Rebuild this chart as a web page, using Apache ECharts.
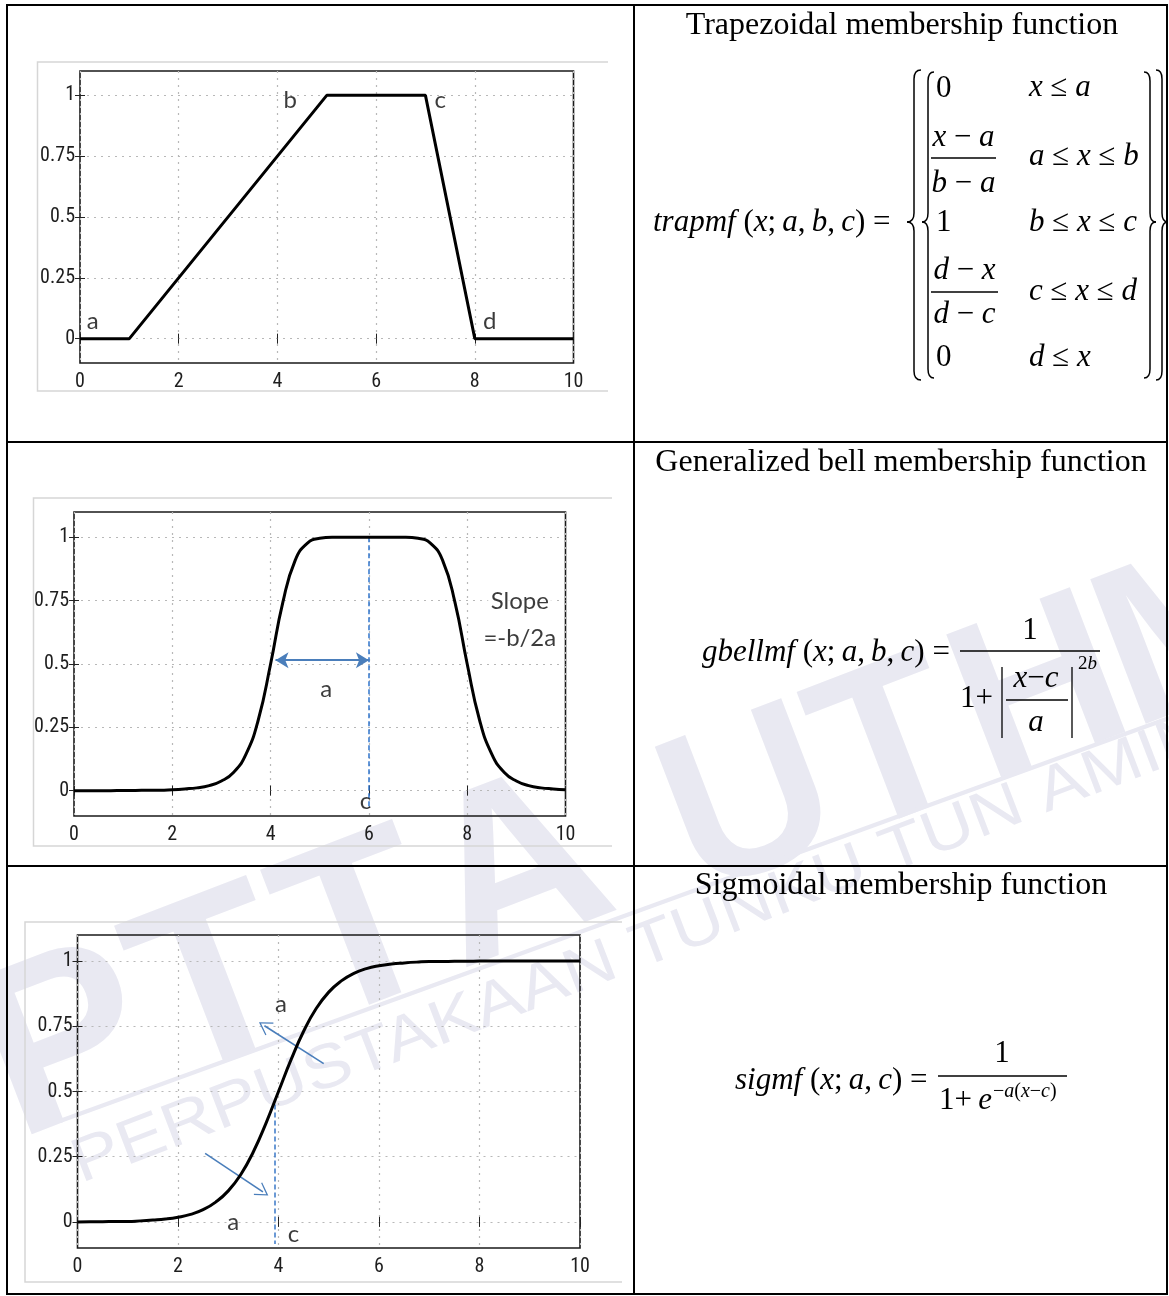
<!DOCTYPE html>
<html><head><meta charset="utf-8">
<script src="https://cdn.jsdelivr.net/npm/echarts@6/dist/echarts.min.js"></script>
<style>html,body{margin:0;padding:0;background:#fff}#c{width:1169px;height:1296px}</style>
</head><body><div id="c"></div>
<script>
// ---------- data ----------
const xTicks = [0, 2, 4, 6, 8, 10];
const yTicks = [0, 0.25, 0.5, 0.75, 1];
const trapX = [0, 1, 5, 7, 8, 10];
const trapY = [0, 0, 1, 1, 0, 0];
const curveX = [0,0.25,0.5,0.75,1,1.25,1.5,1.75,2,2.25,2.5,2.75,3,3.25,3.5,3.75,4,4.25,4.5,4.75,5,5.25,5.5,5.75,6,6.25,6.5,6.75,7,7.25,7.5,7.75,8,8.25,8.5,8.75,9,9.25,9.5,9.75,10];
const bellY = [0.000,0.000,0.000,0.000,0.001,0.001,0.002,0.002,0.004,0.007,0.011,0.020,0.038,0.073,0.144,0.280,0.500,0.744,0.909,0.977,0.996,1.000,1.000,1.000,1.000,1.000,1.000,1.000,0.996,0.977,0.909,0.744,0.500,0.280,0.144,0.073,0.038,0.020,0.011,0.007,0.004];
const sigY = [0.000,0.001,0.001,0.002,0.002,0.004,0.007,0.011,0.018,0.029,0.047,0.076,0.119,0.182,0.269,0.378,0.500,0.622,0.731,0.818,0.881,0.924,0.953,0.971,0.982,0.989,0.993,0.996,0.998,0.998,0.999,0.999,1.000,1.000,1.000,1.000,1.000,1.000,1.000,1.000,1.000];
const trapLabels = [[0.26, 0.07, 'a'], [4.26, 0.98, 'b'], [7.3, 0.98, 'c'], [8.3, 0.07, 'd']];
const bellLabels = [[5.13, 0.40, 'a'], [5.93, -0.04, 'c'], [9.07, 0.746, 'Slope'], [9.07, 0.60, '=-b/2a']];
const sigLabels = [[4.05, 0.836, 'a'], [3.1, 0.0, 'a'], [4.3, -0.046, 'c']];
const bellDash = [[6, 1], [6, -0.07]];
const bellArrow = [[4.1, 0.515], [6.0, 0.515]];
const sigDash = [[3.93, 0.45], [3.93, -0.085]];
const sigArrows = [[[4.9, 0.607], [3.72, 0.752]], [[2.54, 0.263], [3.69, 0.115]]];
const titles = ['Trapezoidal membership function', 'Generalized bell membership function', 'Sigmoidal membership function'];
const watermarkBig = ['P', 'T', 'T', 'A', 'U', 'T', 'H', 'M'];
const watermarkSmall = 'PERPUSTAKAAN TUNKU TUN AMINAH';

// ---------- styling helpers ----------
const TICKFONT = "'Liberation Sans Narrow','Roboto Condensed','DejaVu Sans Condensed','Liberation Sans',sans-serif";
const ANNFONT = "Lato,'Open Sans',sans-serif";
const SERIF = "'Liberation Serif','Times New Roman',serif";
const grids = [
  {left: 80, top: 71, width: 493.5, height: 292},
  {left: 74, top: 512, width: 491.5, height: 304},
  {left: 77.5, top: 935, width: 502.5, height: 313}
];
const gridLine = {show: true, lineStyle: {color: '#b8b8b8', type: [2, 5], width: 1.2}};
const xAxes = [], yAxes = [];
grids.forEach((g, i) => {
  xAxes.push({type: 'value', gridIndex: i, min: 0, max: 10, interval: 2,
    axisLine: {show: false}, axisTick: {inside: true, length: 5, lineStyle: {color: '#222'}},
    axisLabel: {margin: 9, color: '#1e1e1e', fontSize: 20, fontFamily: TICKFONT},
    splitLine: gridLine});
  xAxes.push({type: 'value', gridIndex: i, position: 'top', min: 0, max: 10, interval: 2,
    axisLine: {show: false}, axisTick: {inside: true, length: 5, lineStyle: {color: '#222'}},
    axisLabel: {show: false}, splitLine: {show: false}});
  yAxes.push({type: 'value', gridIndex: i, min: -0.1, max: 1.1,
    axisLine: {show: false},
    axisTick: {inside: true, length: 5, customValues: yTicks, lineStyle: {color: '#222'}},
    axisLabel: {customValues: yTicks, margin: 5, color: '#1e1e1e', fontSize: 20, fontFamily: TICKFONT},
    splitLine: gridLine});
  yAxes.push({type: 'value', gridIndex: i, position: 'right', min: -0.1, max: 1.1,
    axisLine: {show: false},
    axisTick: {inside: true, length: 5, customValues: yTicks, lineStyle: {color: '#222'}},
    axisLabel: {show: false}, splitLine: {show: false}});
});
const gridOpts = grids.map(g => Object.assign({show: true, borderColor: '#1a1a1a', borderWidth: 1.6,
  backgroundColor: 'transparent', containLabel: false, outerBoundsMode: 'none'}, g));

const curveStyle = {color: '#000', width: 3};
function lineSeries(i, data, smooth) {
  return {type: 'line', xAxisIndex: 2 * i, yAxisIndex: 2 * i, data: data, smooth: smooth,
    symbol: 'none', lineStyle: curveStyle, itemStyle: {color: '#000'}, z: 5, animation: false, silent: true};
}
function labelSeries(i, arr) {
  return {type: 'scatter', xAxisIndex: 2 * i, yAxisIndex: 2 * i, symbolSize: 1, z: 6, silent: true, animation: false,
    itemStyle: {color: 'rgba(0,0,0,0)'},
    data: arr.map(d => {
      const item = {value: [d[0], d[1]], name: d[2]};
      if (d[2] === 'Slope') item.label = {backgroundColor: '#fff', padding: [0, 3]};
      return item;
    }),
    label: {show: true, position: 'inside', formatter: p => p.name, fontSize: 24, fontFamily: ANNFONT, color: '#0a0a0a'}};
}
const chevron = 'path://M0,0 L10,12 L8.6,12.6 L0,2.4 L-8.6,12.6 L-10,12 Z';

const bell = lineSeries(1, curveX.map((x, k) => [x, bellY[k]]), 0.5);
bell.markLine = {silent: true, animation: false, symbol: 'none', label: {show: false},
  data: [
    [{coord: bellDash[0], lineStyle: {color: '#2f74cc', type: [5, 3], width: 1.5}}, {coord: bellDash[1]}],
    [{coord: bellArrow[0], symbol: 'arrow', symbolSize: [12, 13], lineStyle: {color: '#4a7ebb', type: 'solid', width: 2}},
     {coord: bellArrow[1], symbol: 'arrow', symbolSize: [12, 13]}]
  ]};
const sig = lineSeries(2, curveX.map((x, k) => [x, sigY[k]]), 0.5);
sig.markLine = {silent: true, animation: false, symbol: 'none', label: {show: false},
  data: [
    [{coord: sigDash[0], lineStyle: {color: '#3a78c8', type: [5, 3], width: 1.5}}, {coord: sigDash[1]}]
  ].concat(sigArrows.map(a => [
    {coord: a[0], lineStyle: {color: '#4a7ebb', type: 'solid', width: 1.6}},
    {coord: a[1], symbol: chevron, symbolSize: [15, 13]}
  ]))};

// ---------- formula text helpers ----------
function mt(str) {
  let out = '', m; const re = /([a-z]+)|([^a-z]+)/g;
  while ((m = re.exec(str))) out += m[1] ? '{i|' + m[1] + '}' : '{r|' + m[2] + '}';
  return out;
}
function ftext(x, y, str, size, align) {
  return {type: 'text', x: x, y: y, z: 20, silent: true,
    style: {text: mt(str), align: align || 'left', verticalAlign: 'middle', fill: '#000',
      rich: {i: {fontFamily: SERIF, fontStyle: 'italic', fontSize: size, fill: '#000'},
             r: {fontFamily: SERIF, fontSize: size, fill: '#000'}}}};
}
function seg(x1, y1, x2, y2, w) {
  return {type: 'line', z: 20, silent: true, shape: {x1: x1, y1: y1, x2: x2, y2: y2}, style: {stroke: '#000', lineWidth: w || 1.3}};
}
function curve(x1, y1, cx, cy, x2, y2) {
  return {type: 'bezierCurve', z: 20, silent: true, shape: {x1: x1, y1: y1, cpx1: cx, cpy1: cy, x2: x2, y2: y2},
    style: {stroke: '#000', fill: null, lineWidth: 1.5}};
}
// brace: xv vertical x, xt tip x, xe end-curl x
function brace(xv, xt, xe, yT, yM, yB) {
  const r = 9;
  return [
    curve(xe, yT, xv, yT, xv, yT + r), seg(xv, yT + r, xv, yM - r, 1.5),
    curve(xv, yM - r, xv, yM, xt, yM), curve(xt, yM, xv, yM, xv, yM + r),
    seg(xv, yM + r, xv, yB - r, 1.5), curve(xv, yB - r, xv, yB, xe, yB)
  ];
}
function title(x, y, t) {
  return {type: 'text', x: x, y: y, z: 20, silent: true,
    style: {text: t, fontFamily: SERIF, fontSize: 32, fill: '#000', align: 'center', verticalAlign: 'middle'}};
}
const F = 31, TS = '\u2009';
const WM = '#e9e9f2';
const ROT = 21 * Math.PI / 180;
const bigStarts = [18, 172, 318, 462, 698, 850, 988, 1132];
const bigShiftY = [0, 0, 0, 0, 14, 14, 14, 14];
const graphics = [];
// watermark (big letters placed along a slanted baseline)
watermarkBig.forEach((ch, k) => {
  const x = bigStarts[k];
  const yb = 872 + (725 - x) * 0.384 + bigShiftY[k];
  graphics.push({type: 'text', x: x + 50 * Math.sin(ROT), y: yb + 50 * Math.cos(ROT), rotation: ROT, z: -10, silent: true,
    style: {text: ch, fontSize: k < 4 ? 240 : 225, fontWeight: 'bold', fontFamily: "'Liberation Sans',Arial,sans-serif", fill: WM, align: 'left', verticalAlign: 'bottom'}});
});
graphics.push(
  {type: 'text', x: 86, y: 1196, rotation: ROT, scaleX: 1.16, z: -10, silent: true,
   style: {text: watermarkSmall, fontSize: 62, fontFamily: "'Liberation Sans',Arial,sans-serif", fill: WM, align: 'left', verticalAlign: 'bottom'}},
  {type: 'line', z: -10, silent: true, shape: {x1: 60, y1: 1121, x2: 1169, y2: 718}, style: {stroke: WM, lineWidth: 4}},
  // table
  {type: 'rect', z: 30, silent: true, shape: {x: 7, y: 5, width: 1160, height: 1289}, style: {stroke: '#000', fill: null, lineWidth: 2}},
  {type: 'line', z: 30, silent: true, shape: {x1: 634, y1: 5, x2: 634, y2: 1294}, style: {stroke: '#000', lineWidth: 2}},
  {type: 'line', z: 30, silent: true, shape: {x1: 7, y1: 442, x2: 1167, y2: 442}, style: {stroke: '#000', lineWidth: 2}},
  {type: 'line', z: 30, silent: true, shape: {x1: 7, y1: 866, x2: 1167, y2: 866}, style: {stroke: '#000', lineWidth: 2}},
  // embedded picture frames
  {type: 'polyline', z: 1, silent: true, shape: {points: [[608, 62], [37.5, 62], [37.5, 391], [608, 391]]}, style: {stroke: '#d6d6d6', fill: null, lineWidth: 1.5}},
  {type: 'polyline', z: 1, silent: true, shape: {points: [[612, 498], [33.5, 498], [33.5, 846], [612, 846]]}, style: {stroke: '#d6d6d6', fill: null, lineWidth: 1.5}},
  {type: 'polyline', z: 1, silent: true, shape: {points: [[622, 922], [25, 922], [25, 1282], [622, 1282]]}, style: {stroke: '#d6d6d6', fill: null, lineWidth: 1.5}},
  // titles
  title(902, 25.5, titles[0]), title(901, 462.5, titles[1]), title(901, 885.5, titles[2]),
  // row 1 formula
  ftext(653, 222.7, 'trapmf (x;' + TS + 'a,' + TS + 'b,' + TS + 'c) =', F)
);
graphics.push.apply(graphics, brace(914, 907, 921, 70, 222, 380));
graphics.push.apply(graphics, brace(928, 922, 934, 72, 222, 378));
graphics.push.apply(graphics, brace(1150, 1156, 1144, 72, 222, 378));
graphics.push.apply(graphics, brace(1162, 1168, 1156, 70, 222, 380));
graphics.push(
  ftext(936, 88.7, '0', F),
  ftext(963.5, 137.7, 'x \u2212 a', F, 'center'),
  seg(931, 158, 996, 158),
  ftext(963.5, 183.7, 'b \u2212 a', F, 'center'),
  ftext(936, 222.7, '1', F),
  ftext(964.5, 270.7, 'd \u2212 x', F, 'center'),
  seg(931, 292, 998, 292),
  ftext(964.5, 314.7, 'd \u2212 c', F, 'center'),
  ftext(936, 357.7, '0', F),
  ftext(1029, 88, 'x \u2264 a', F),
  ftext(1029, 156.7, 'a \u2264 x \u2264 b', F),
  ftext(1029, 222.7, 'b \u2264 x \u2264 c', F),
  ftext(1029, 291.7, 'c \u2264 x \u2264 d', F),
  ftext(1029, 357.7, 'd \u2264 x', F),
  // row 2 formula
  ftext(702, 652.7, 'gbellmf (x;' + TS + 'a,' + TS + 'b,' + TS + 'c) =', F),
  ftext(1030, 630.7, '1', F, 'center'),
  seg(960, 651, 1100, 651),
  ftext(960, 698.7, '1+', F),
  seg(1002, 667, 1002, 738),
  seg(1072, 667, 1072, 738),
  ftext(1036, 678.7, 'x\u2212c', F, 'center'),
  seg(1006, 700, 1068, 700),
  ftext(1036, 722.7, 'a', F, 'center'),
  ftext(1078, 664, '2b', 19),
  // row 3 formula
  ftext(735, 1080.7, 'sigmf (x;' + TS + 'a,' + TS + 'c) =', F),
  ftext(1002, 1053.7, '1', F, 'center'),
  seg(938, 1076, 1067, 1076),
  ftext(939, 1100.7, '1+' + TS + 'e', F),
  ftext(993, 1092, '\u2212a(x\u2212c)', 20)
);

const option = {
  backgroundColor: '#fff',
  animation: false,
  grid: gridOpts,
  xAxis: xAxes,
  yAxis: yAxes,
  series: [
    lineSeries(0, trapX.map((x, k) => [x, trapY[k]]), false),
    labelSeries(0, trapLabels),
    bell,
    labelSeries(1, bellLabels),
    sig,
    labelSeries(2, sigLabels)
  ],
  graphic: graphics
};
const chart = echarts.init(document.getElementById('c'), null, {renderer: 'canvas', width: 1169, height: 1296});
chart.setOption(option);
</script>
</body></html>
